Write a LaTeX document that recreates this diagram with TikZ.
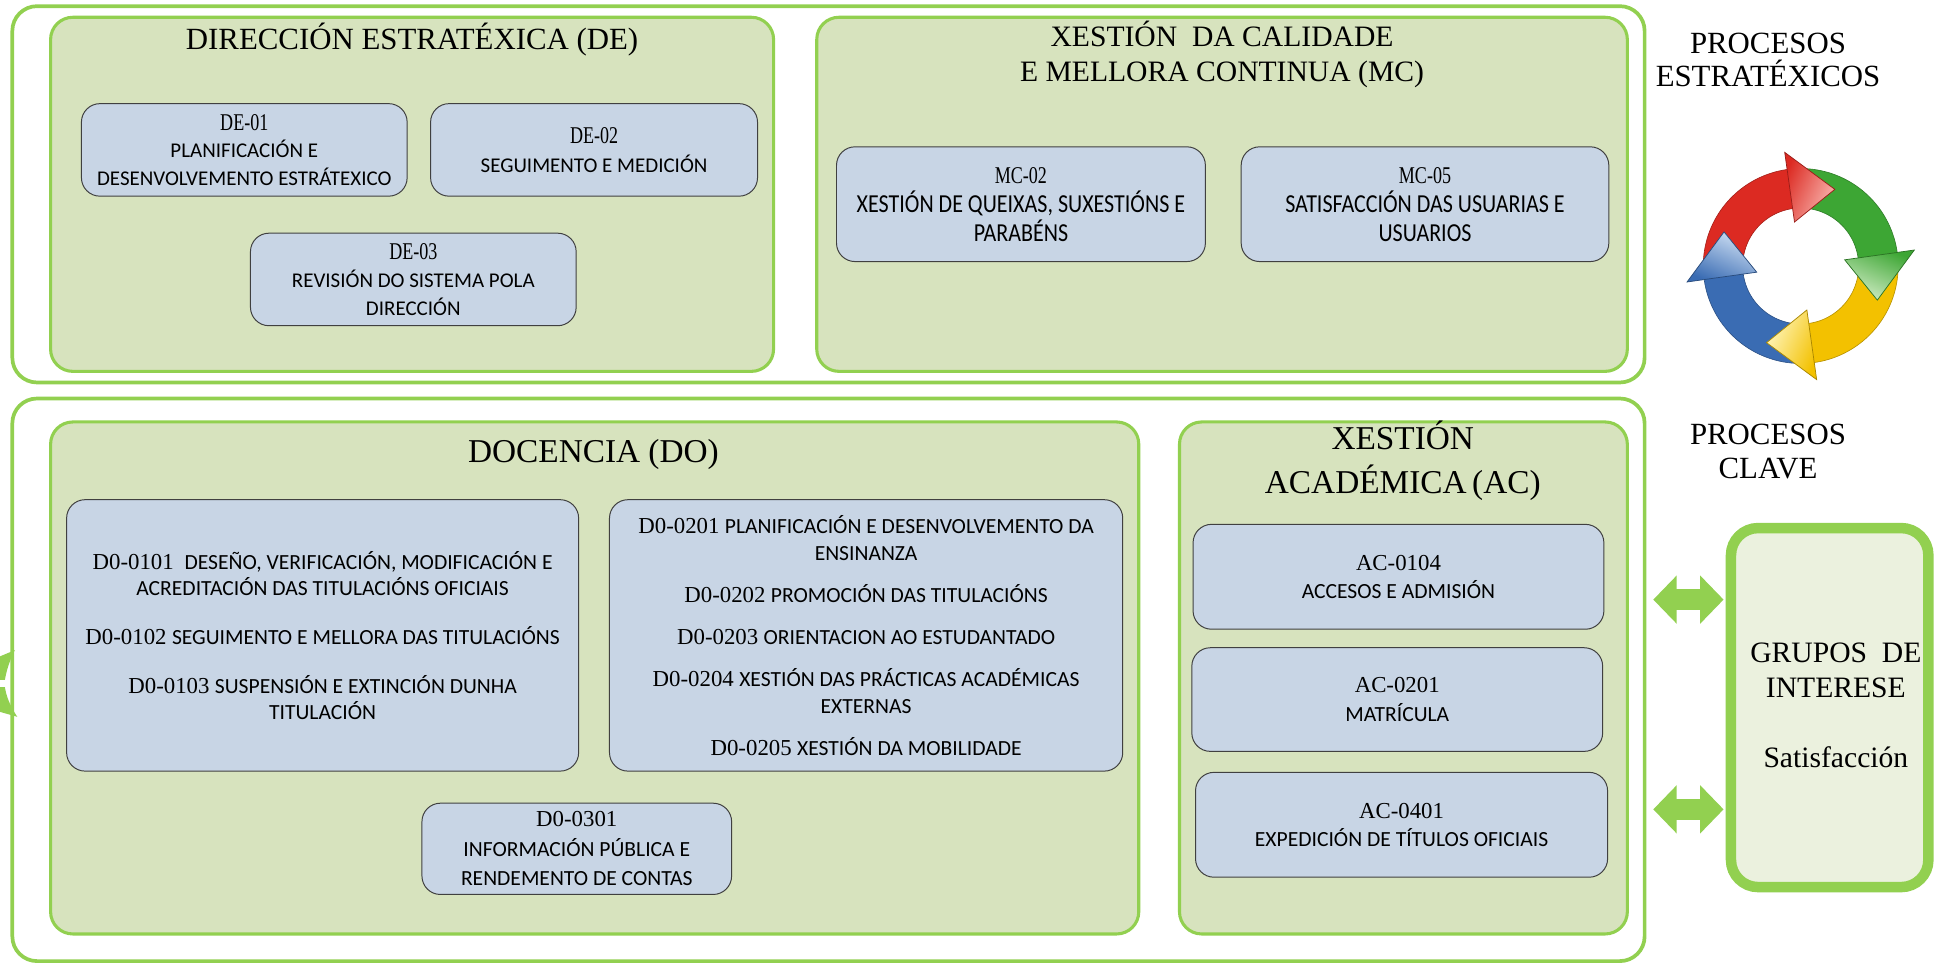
\documentclass[tikz,border=0pt]{standalone}
\usepackage{fontspec}
\setmainfont{Liberation Serif}
\newfontfamily\calfont{Carlito}
\newfontfamily\condserif[FakeStretch=0.75]{Liberation Serif}
\newfontfamily\condcal[FakeStretch=0.85]{Carlito}
\usetikzlibrary{arrows.meta}
\definecolor{lgreen}{HTML}{92D050}
\definecolor{boxgreen}{HTML}{D7E3BE}
\definecolor{boxblue}{HTML}{C8D5E5}
\definecolor{palegreen}{HTML}{EBF1DE}
\definecolor{rdm}{HTML}{DC2A22}\definecolor{rdl}{HTML}{F9B8B2}
\definecolor{grm}{HTML}{3DA634}\definecolor{grl}{HTML}{D2EDC6}
\definecolor{ylm}{HTML}{F3C100}\definecolor{yll}{HTML}{FFF6C0}
\definecolor{blm}{HTML}{3A6CB3}\definecolor{bll}{HTML}{CFE0F4}
\newcommand\cdA[1]{{\condserif\fontsize{19.5}{23}\selectfont #1}}
\newcommand\dsA[1]{{\calfont\fontsize{17}{22.5}\selectfont #1}}
\newcommand\dsM[1]{{\condcal\fontsize{21}{23.5}\selectfont #1}}
\newcommand\cdB[1]{{\fontsize{18.5}{22}\selectfont #1}}
\newcommand\dsB[1]{{\calfont\fontsize{17.5}{22}\selectfont #1}}
\begin{document}
\begin{tikzpicture}[x=1pt,y=-1pt,
  outerbox/.style={draw=lgreen, line width=3pt, rounded corners=20pt, fill=white, inner sep=0pt},
  groupbox/.style={draw=lgreen, line width=2.5pt, rounded corners=18pt, fill=boxgreen, inner sep=0pt},
  procbox/.style={draw=black!75, line width=0.8pt, rounded corners=15pt, fill=boxblue, align=center, inner sep=0pt},
  titletext/.style={anchor=base, inner sep=0pt, font=\fontsize{25}{29}\selectfont},
  bigtitle/.style={anchor=base, inner sep=0pt, font=\fontsize{27}{31}\selectfont},
  fatarrow/.style={draw=lgreen, line width=17.5pt, {Triangle[length=19pt 0 0,width=38pt 0 0]}-{Triangle[length=19pt 0 0,width=38pt 0 0]}},
  grupbox/.style={draw=lgreen, line width=8.5pt, rounded corners=22pt, fill=palegreen, align=center, inner sep=0pt}]
\useasboundingbox (0,0) rectangle (1570,782);
\fill[white] (0,0) rectangle (1570,782);

% ---------- top group ----------
\node[outerbox, minimum width=1323pt, minimum height=305pt] (topouter) at (671.5,157.5) {};
\node[groupbox, minimum width=586pt, minimum height=287pt] (de) at (334,157.5) {};
\node[groupbox, minimum width=657pt, minimum height=287pt] (mc) at (990.5,157.5) {};

\node[titletext] (detitle) at (334,40) {DIRECCIÓN ESTRATÉXICA (DE)};
\node[titletext, font=\fontsize{24}{28}\selectfont] (mctitle1) at (990.5,38) {XESTIÓN\ \ DA CALIDADE};
\node[titletext, font=\fontsize{24}{28}\selectfont] (mctitle2) at (990.5,66) {E MELLORA CONTINUA (MC)};

\node[procbox, minimum width=264pt, minimum height=75pt, font=\fontsize{17}{22.5}\selectfont] (de01) at (198,121.5)
  {\cdA{DE-01}\\\dsA{PLANIFICACIÓN E}\\\dsA{DESENVOLVEMENTO ESTRÁTEXICO}};
\node[procbox, minimum width=265pt, minimum height=75pt, font=\fontsize{17}{24}\selectfont] (de02) at (481.5,121.5)
  {\cdA{DE-02}\\\dsA{SEGUIMENTO E MEDICIÓN}};
\node[procbox, minimum width=264pt, minimum height=75pt, font=\fontsize{17}{23}\selectfont] (de03) at (335,226.5)
  {\cdA{DE-03}\\\dsA{REVISIÓN DO SISTEMA POLA}\\\dsA{DIRECCIÓN}};
\node[procbox, minimum width=299pt, minimum height=93pt, font=\fontsize{21}{23.5}\selectfont] (mc02) at (827.5,165.5)
  {\cdA{MC-02}\\\dsM{XESTIÓN DE QUEIXAS, SUXESTIÓNS E}\\\dsM{PARABÉNS}};
\node[procbox, minimum width=298pt, minimum height=93pt, font=\fontsize{21}{23.5}\selectfont] (mc05) at (1155,165.5)
  {\cdA{MC-05}\\\dsM{SATISFACCIÓN DAS USUARIAS E}\\\dsM{USUARIOS}};

\node[titletext] (pe1) at (1433,43) {PROCESOS};
\node[titletext] (pe2) at (1433,70) {ESTRATÉXICOS};

% ---------- recycle icon ----------
\begin{scope}[shift={(1459.5,215.6)}]
  \foreach \t/\cm in {66/rdm, -24/grm, -114/ylm, 156/blm}{
    \pgfmathsetmacro\ta{\t+115}
    \pgfmathsetmacro\tb{\t+28}
    \fill[\cm, draw=\cm!75!black, line width=0.5pt]
      plot[domain=\ta:\tb, samples=40] (\x:79pt) -- plot[domain=\tb:\ta, samples=40] (\x:47pt) -- cycle;
  }
  \foreach \t/\cm/\cl in {66/rdm/rdl, -24/grm/grl, -114/ylm/yll, 156/blm/bll}{
    \pgfmathsetmacro\tc{\t+32}
    \pgfmathsetmacro\sa{\t-180}
    \shade[top color=\cl, bottom color=\cm, shading angle=\sa, draw=\cm!70!black, line width=0.6pt]
      (\tc:36pt) -- (\tc:93pt) -- (\t:68pt) -- cycle;
  }
\end{scope}

% ---------- bottom group ----------
\node[outerbox, minimum width=1323pt, minimum height=456pt] (botouter) at (671.5,551) {};
\node[groupbox, minimum width=882pt, minimum height=415pt] (do) at (482,549.5) {};
\node[groupbox, minimum width=363pt, minimum height=415pt] (ac) at (1137.5,549.5) {};

\node[bigtitle] (dotitle) at (481,375) {DOCENCIA (DO)};
\node[bigtitle] (actitle1) at (1137,364) {XESTIÓN};
\node[bigtitle] (actitle2) at (1137,400) {ACADÉMICA\,(AC)};

\node[procbox, minimum width=415pt, minimum height=220pt, font=\fontsize{17.5}{21.5}\selectfont] (do1) at (261.5,515)
  {\cdB{D0-0101}\enspace\dsB{DESEÑO, VERIFICACIÓN, MODIFICACIÓN E}\\
   \dsB{ACREDITACIÓN DAS TITULACIÓNS OFICIAIS}\\[18pt]
   \cdB{D0-0102} \dsB{SEGUIMENTO E MELLORA DAS TITULACIÓNS}\\[18pt]
   \cdB{D0-0103} \dsB{SUSPENSIÓN E EXTINCIÓN DUNHA}\\
   \dsB{TITULACIÓN}};
\node[procbox, minimum width=416pt, minimum height=220pt, font=\fontsize{17.5}{22}\selectfont] (do2) at (702,515)
  {\cdB{D0-0201} \dsB{PLANIFICACIÓN E DESENVOLVEMENTO DA}\\
   \dsB{ENSINANZA}\\[12pt]
   \cdB{D0-0202} \dsB{PROMOCIÓN DAS TITULACIÓNS}\\[12pt]
   \cdB{D0-0203} \dsB{ORIENTACION AO ESTUDANTADO}\\[12pt]
   \cdB{D0-0204} \dsB{XESTIÓN DAS PRÁCTICAS ACADÉMICAS}\\
   \dsB{EXTERNAS}\\[12pt]
   \cdB{D0-0205} \dsB{XESTIÓN DA MOBILIDADE}};
\node[procbox, minimum width=251pt, minimum height=74pt, font=\fontsize{17.5}{24}\selectfont] (do3) at (467.5,688)
  {\cdB{D0-0301}\\\dsB{INFORMACIÓN PÚBLICA E}\\\dsB{RENDEMENTO DE CONTAS}};

\node[procbox, minimum width=333pt, minimum height=85pt, font=\fontsize{17.5}{23}\selectfont] (ac0104) at (1133.5,467.5)
  {\cdB{AC-0104}\\\dsB{ACCESOS E ADMISIÓN}};
\node[procbox, minimum width=333pt, minimum height=84pt, font=\fontsize{17.5}{23}\selectfont] (ac0201) at (1132.5,567)
  {\cdB{AC-0201}\\\dsB{MATRÍCULA}};
\node[procbox, minimum width=334pt, minimum height=85pt, font=\fontsize{17.5}{23}\selectfont] (ac0401) at (1136,668.5)
  {\cdB{AC-0401}\\\dsB{EXPEDICIÓN DE TÍTULOS OFICIAIS}};

\node[titletext] (pc1) at (1433,360) {PROCESOS};
\node[titletext] (pc2) at (1433,388) {CLAVE};

% ---------- grupos de interese ----------
\node[grupbox, minimum width=160pt, minimum height=291pt] (grupos) at (1483,573.5) {};
\node[titletext, font=\fontsize{24}{28}\selectfont] (gr1) at (1488,537) {GRUPOS\ \ DE};
\node[titletext, font=\fontsize{24}{28}\selectfont] (gr2) at (1488,565) {INTERESE};
\node[titletext, font=\fontsize{24}{28}\selectfont] (gr3) at (1488,622) {Satisfacción};

\coordinate (da1) at (1340,486);
\coordinate (db1) at (1397,486);
\coordinate (da2) at (1340,656);
\coordinate (db2) at (1397,656);
\draw[fatarrow] (da1) -- (db1);
\draw[fatarrow] (da2) -- (db2);

% ---------- partial arrow on the left edge ----------
\fill[lgreen] (0,532) -- (12,527) .. controls (7,537) and (5,545) .. (4,551) -- (0,551) -- cycle;
\fill[lgreen] (0,557) -- (4,557) .. controls (5,564) and (8,572) .. (14,581) -- (0,577) -- cycle;
\end{tikzpicture}
\end{document}
